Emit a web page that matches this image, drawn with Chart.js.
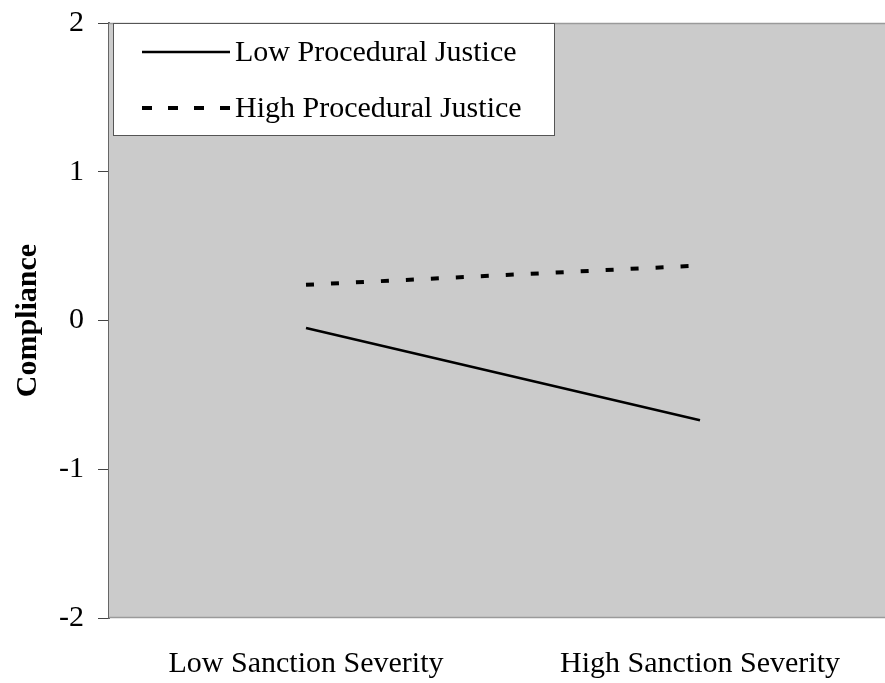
<!DOCTYPE html>
<html>
<head>
<meta charset="utf-8">
<script src="https://cdn.jsdelivr.net/npm/chart.js@4/dist/chart.umd.min.js"></script>
<style>
  html, body { margin: 0; padding: 0; background: #fff; overflow: hidden; }
  #wrap { width: 897px; height: 683px; }
</style>
</head>
<body>
<div id="wrap"><canvas id="c"></canvas></div>
<script>
const categories = ['Low Sanction Severity', 'High Sanction Severity'];
const lowPJ = [-0.05, -0.67];
const highPJ = [0.24, 0.37];
const seriesNames = ['Low Procedural Justice', 'High Procedural Justice'];
const yTicks = [-2, -1, 0, 1, 2];

const serif = '"Liberation Serif", "Times New Roman", serif';

// grey plot area with thin border, drawn under the lines
const plotBg = {
  id: 'plotBg',
  beforeDatasetsDraw(chart) {
    const { ctx, chartArea: a } = chart;
    ctx.save();
    ctx.fillStyle = '#cbcbcb';
    ctx.fillRect(a.left, a.top, a.right - a.left, a.bottom - a.top);
    ctx.strokeStyle = '#9a9a9a';
    ctx.lineWidth = 1.5;
    ctx.beginPath();
    ctx.moveTo(a.left, a.top + 0.5);
    ctx.lineTo(a.right, a.top + 0.5);
    ctx.moveTo(a.left, a.bottom - 0.5);
    ctx.lineTo(a.right, a.bottom - 0.5);
    ctx.stroke();
    ctx.restore();
  }
};

// boxed legend in the upper left corner of the plot
const boxLegend = {
  id: 'boxLegend',
  afterDatasetsDraw(chart) {
    const { ctx, chartArea: a } = chart;
    const x0 = a.left + 4, y0 = a.top, w = 442, h = 113;
    ctx.save();
    ctx.fillStyle = '#fff';
    ctx.fillRect(x0, y0, w, h);
    ctx.strokeStyle = '#555';
    ctx.lineWidth = 1;
    ctx.strokeRect(x0 + 0.5, y0 + 0.5, w - 1, h - 1);
    const rows = [29, 85];
    chart.data.datasets.forEach((ds, i) => {
      const y = y0 + rows[i];
      ctx.strokeStyle = ds.borderColor;
      ctx.lineWidth = ds.borderWidth;
      ctx.setLineDash(i === 0 ? [] : [10, 16]);
      ctx.beginPath();
      ctx.moveTo(x0 + 29, y);
      ctx.lineTo(x0 + 117, y);
      ctx.stroke();
      ctx.setLineDash([]);
      ctx.fillStyle = '#000';
      ctx.font = '30px ' + serif;
      ctx.textBaseline = 'middle';
      ctx.fillText(ds.label, x0 + 122, y + 1);
    });
    ctx.restore();
  }
};

new Chart(document.getElementById('c'), {
  type: 'line',
  data: {
    labels: categories,
    datasets: [
      {
        label: seriesNames[0],
        data: lowPJ,
        borderColor: '#000',
        borderWidth: 2.5,
        pointRadius: 0,
        fill: false
      },
      {
        label: seriesNames[1],
        data: highPJ,
        borderColor: '#000',
        borderWidth: 4,
        borderDash: [8, 17],
        pointRadius: 0,
        fill: false
      }
    ]
  },
  options: {
    responsive: true,
    maintainAspectRatio: false,
    animation: false,
    layout: { padding: { top: 23, left: 0, right: 0, bottom: 0 } },
    plugins: {
      legend: { display: false },
      tooltip: { enabled: false }
    },
    scales: {
      x: {
        offset: true,
        grid: { display: false, drawTicks: false },
        border: { display: false },
        ticks: {
          color: '#000',
          font: { family: serif, size: 30 },
          padding: 28,
          maxRotation: 0,
          autoSkip: false
        },
        afterFit(scale) { scale.height = 65; }
      },
      y: {
        min: -2,
        max: 2,
        afterBuildTicks(scale) { scale.ticks = yTicks.map(v => ({ value: v })); },
        grid: {
          drawOnChartArea: false,
          drawTicks: true,
          tickLength: 11,
          color: '#444',
          lineWidth: 1
        },
        border: { display: true, color: '#666', width: 2 },
        ticks: {
          color: '#000',
          font: { family: serif, size: 30 },
          padding: 14
        },
        title: {
          display: true,
          text: 'Compliance',
          color: '#000',
          font: { family: serif, size: 30, weight: 'bold' },
          padding: { top: 10, bottom: 0 }
        },
        afterFit(scale) {
          scale.width = 109;
          scale.paddingTop = 0;
          scale.paddingBottom = 0;
        }
      }
    }
  },
  plugins: [plotBg, boxLegend]
});
</script>
</body>
</html>
